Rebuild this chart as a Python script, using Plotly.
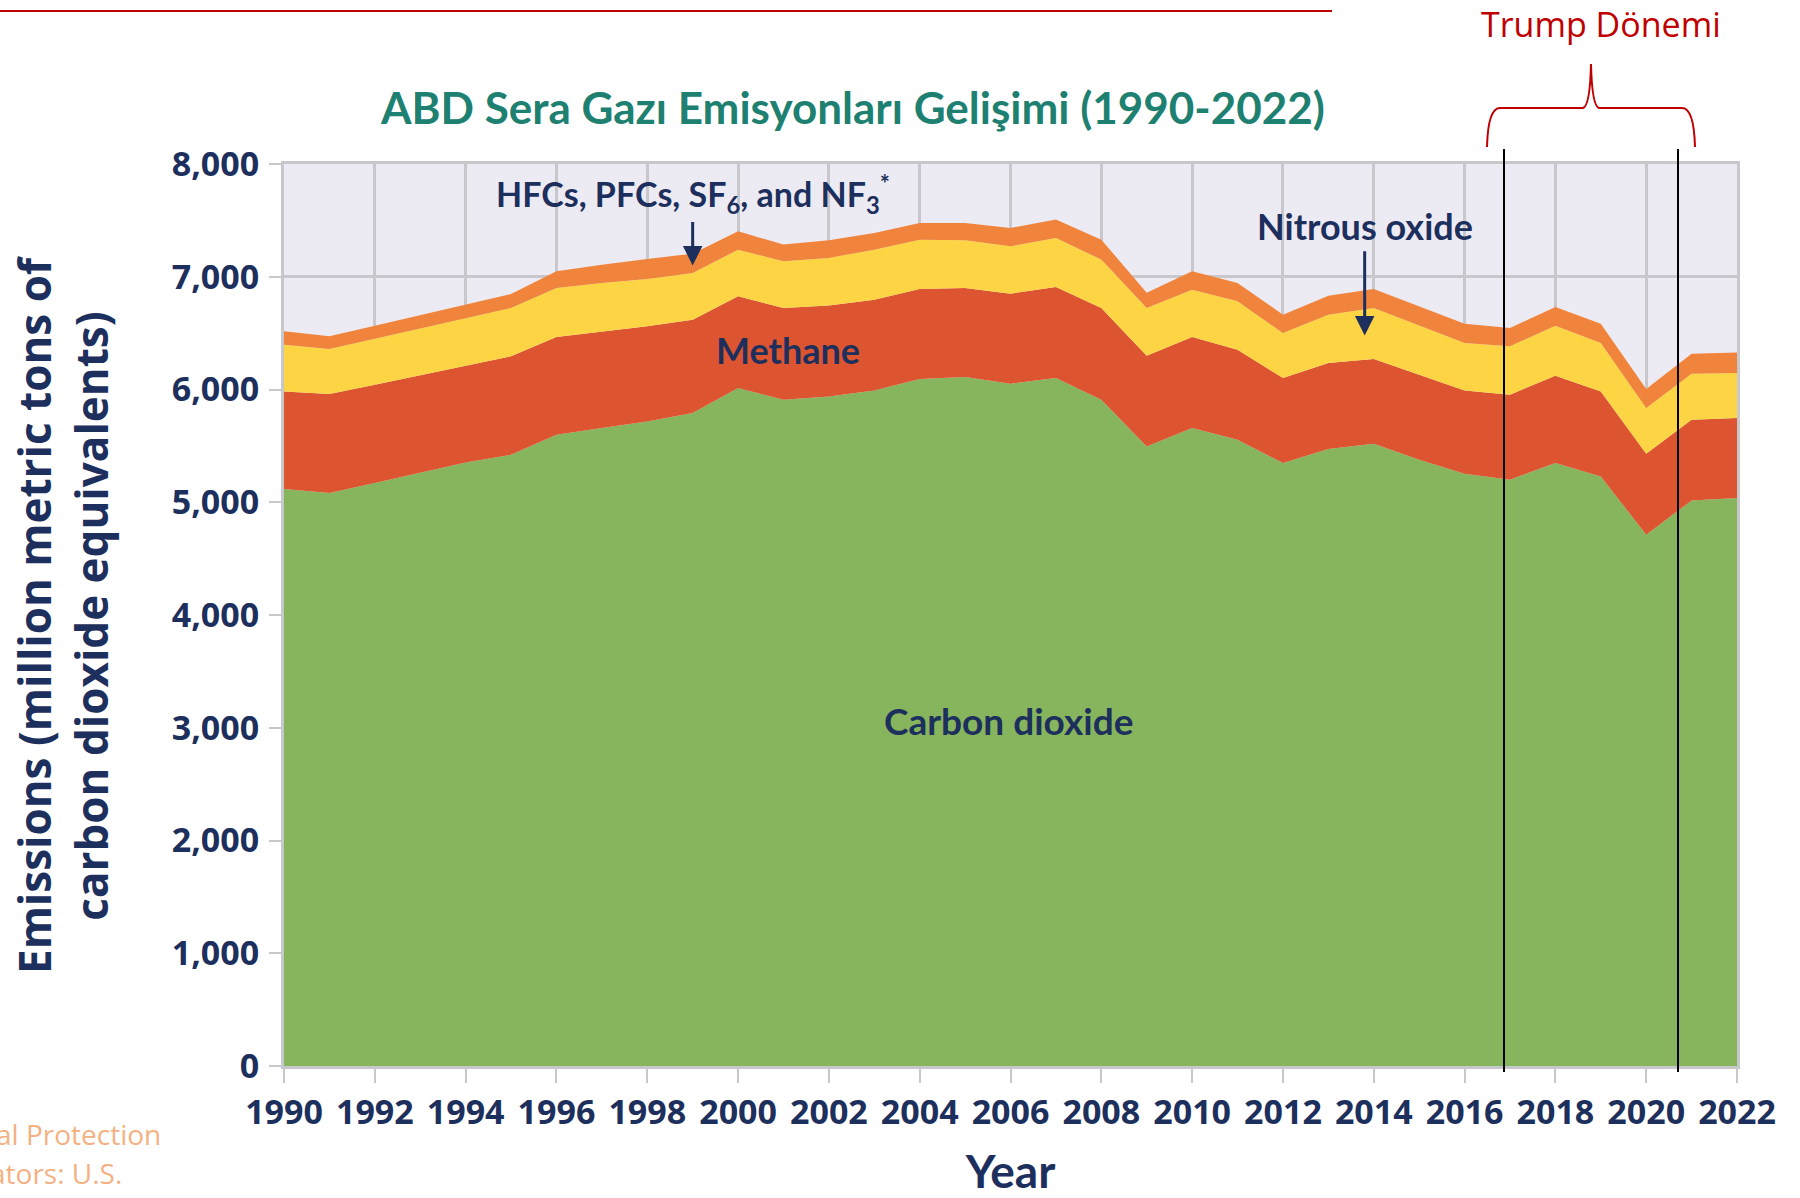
import plotly.graph_objects as go

# US greenhouse gas emissions by gas (million metric tons CO2 eq)
years = list(range(1990, 2023))
carbon_dioxide = [5117, 5081, 5170, 5259, 5353, 5421, 5599, 5658, 5717, 5791,
                  6013, 5909, 5939, 5992, 6093, 6111, 6051, 6102, 5909, 5495,
                  5658, 5555, 5348, 5472, 5519, 5377, 5253, 5200, 5348, 5229,
                  4712, 5016, 5037]
methane = [866, 879, 873, 866, 858, 873, 867, 858, 843, 828,
           813, 814, 805, 805, 799, 789, 799, 807, 814, 805,
           808, 798, 754, 763, 751, 754, 739, 754, 775, 754,
           718, 716, 710]
nitrous_oxide = [414, 399, 408, 415, 420, 429, 434, 429, 420, 415,
                 414, 414, 423, 443, 437, 423, 420, 435, 429, 423,
                 419, 429, 399, 429, 453, 435, 420, 429, 443, 429,
                 406, 408, 399]
f_gases = [119, 113, 115, 121, 121, 124, 148, 162, 178, 171,
           163, 148, 156, 148, 148, 154, 163, 163, 177, 135,
           163, 163, 163, 168, 169, 172, 172, 162, 166, 172,
           168, 178, 183]

series = [
    ("Carbon dioxide", carbon_dioxide, "#87b55e"),
    ("Methane", methane, "#dd5530"),
    ("Nitrous oxide", nitrous_oxide, "#fdd444"),
    ("HFCs, PFCs, SF6, and NF3", f_gases, "#f0843c"),
]

NAVY = "#1d2f5c"
RED = "#c00000"
FONT = "Lato, Open Sans, sans-serif"
WIDE = "Open Sans, sans-serif"

fig = go.Figure()
for name, vals, col in series:
    fig.add_trace(go.Scatter(x=years, y=vals, name=name, mode="lines",
                             stackgroup="gas", line={"width": 0, "color": col},
                             fillcolor=col, showlegend=False))

W, H = 1800, 1198
L, R, T, B = 284, 63, 164, 132
pw, ph = W - L - R, H - T - B


def px(x):
    return (x - L) / pw


def py(y):
    return (H - B - y) / ph


def note(x, y, text, size, family=FONT, color=NAVY, bold=True, xanchor="center", **kw):
    font = {"family": family, "size": size, "color": color}
    if bold:
        font["weight"] = "bold"
    fig.add_annotation(x=x, y=y, text=text, showarrow=False, font=font,
                       xanchor=xanchor, yanchor="middle", **kw)


# labels inside the plot
note(1999, 7730, "HFCs, PFCs, SF<sub>6</sub>, and NF<sub>3</sub><sup>*</sup>", 34)
note(2001.1, 6350, "Methane", 36)
note(2013.8, 7450, "Nitrous oxide", 36)
note(2005.95, 3060, "Carbon dioxide", 37)

fig.add_annotation(x=1999, y=7100, ax=1999, ay=7500, axref="x", ayref="y",
                   text="", showarrow=True, arrowhead=2, arrowsize=1.3,
                   arrowwidth=3, arrowcolor=NAVY)
fig.add_annotation(x=2013.8, y=6480, ax=2013.8, ay=7240, axref="x", ayref="y",
                   text="", showarrow=True, arrowhead=2, arrowsize=1.3,
                   arrowwidth=3, arrowcolor=NAVY)

# title, y title and header decorations
note(px(852), py(107), "ABD Sera Gazı Emisyonları Gelişimi (1990-2022)", 44,
     color="#1d8070", xref="paper", yref="paper")
note(px(62), 0.5, "Emissions (million metric tons of<br>carbon dioxide equivalents)", 44,
     family=WIDE, xref="paper", yref="paper", textangle=-90)
note(px(1601), py(24), "Trump Dönemi", 34, family=WIDE, color=RED, bold=False,
     xref="paper", yref="paper")
fig.add_shape(type="line", xref="paper", yref="paper", x0=px(0), x1=px(1332),
              y0=py(11), y1=py(11), line={"color": RED, "width": 2})

# brace over the Trump years
path = "M {} {} Q {} {} {} {} L {} {} Q {} {} {} {} Q {} {} {} {} L {} {} Q {} {} {} {}".format(
    px(1487), py(147),
    px(1488), py(108), px(1500), py(108),
    px(1583), py(108),
    px(1590), py(106), px(1591), py(64),
    px(1592), py(106), px(1599), py(108),
    px(1682), py(108),
    px(1694), py(108), px(1695), py(147),
)
fig.add_shape(type="path", xref="paper", yref="paper", path=path,
              line={"color": RED, "width": 2})

for xv in [1504, 1678]:
    fig.add_shape(type="line", xref="paper", yref="paper", x0=px(xv), x1=px(xv),
                  y0=py(149), y1=py(1072), line={"color": "black", "width": 2})

# cropped source text on the left
note(px(163), py(1134), "al Protection", 28, family=WIDE, color="#f4b183", bold=False,
     xanchor="right", xref="paper", yref="paper")
note(px(124), py(1173), "ators: U.S.", 28, family=WIDE, color="#f4b183", bold=False,
     xanchor="right", xref="paper", yref="paper")

axis_common = dict(showline=True, mirror=True, linecolor="#c8c8cc", linewidth=3,
                   showgrid=True, gridcolor="#c8c8cc", gridwidth=3,
                   ticks="outside", tickcolor="#c8c8cc", tickwidth=2,
                   tickfont={"family": WIDE, "size": 34, "color": NAVY, "weight": "bold"},
                   zeroline=False, automargin=False)

fig.update_layout(
    width=W, height=H,
    margin={"l": L, "r": R, "t": T, "b": B, "pad": 0},
    paper_bgcolor="white", plot_bgcolor="#ecebf4",
    xaxis=dict(range=[1990, 2022], tick0=1990, dtick=2, ticklen=14,
               title={"text": "Year", "standoff": 28,
                      "font": {"family": FONT, "size": 46, "color": NAVY, "weight": "bold"}},
               **axis_common),
    yaxis=dict(range=[0, 8000], dtick=1000, tickformat=",", ticklen=12,
               ticklabelstandoff=3, **axis_common),
)

fig.write_html("out.html", config={"displayModeBar": False},
               post_script="document.body.style.margin='0';")
